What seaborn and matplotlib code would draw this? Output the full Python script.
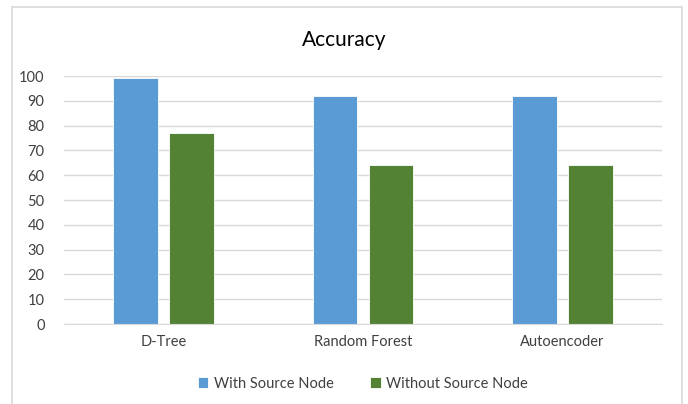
import matplotlib
matplotlib.use('Agg')
import pandas as pd
import matplotlib.pyplot as plt
import seaborn as sns
from matplotlib.patches import Rectangle

models = ['D-Tree', 'Random Forest', 'Autoencoder']
with_source = [99.2, 92.0, 92.0]
without_source = [76.9, 64.2, 64.2]
series_names = ['With Source Node', 'Without Source Node']
colors = ['#5b9bd5', '#548235']

df = pd.DataFrame({
    'model': models * 2,
    'accuracy': with_source + without_source,
    'series': [series_names[0]] * 3 + [series_names[1]] * 3,
})

sns.set_style('white')
plt.rcParams['font.family'] = ['Lato', 'DejaVu Sans']

fig = plt.figure(figsize=(6.88, 4.04), dpi=100)
ax = fig.add_axes([64 / 688, 80 / 404, 598 / 688, 248 / 404])

sns.barplot(data=df, x='model', y='accuracy', hue='series', hue_order=series_names,
            palette=colors, width=0.56, gap=0.2, ax=ax, legend=True, saturation=1,
            edgecolor='white', linewidth=0.6)

ax.set_ylim(0, 100)
ax.set_xlim(-0.5, 2.5)
ax.set_yticks(range(0, 101, 10))
ax.yaxis.grid(True, color='#d9d9d9', linewidth=1)
ax.set_axisbelow(True)
for s in ['top', 'right', 'left']:
    ax.spines[s].set_visible(False)
ax.spines['bottom'].set_color('#d9d9d9')
ax.tick_params(axis='both', length=0, labelsize=10.5, colors='#404040')
ax.tick_params(axis='y', pad=14)
ax.tick_params(axis='x', pad=8)
ax.set_xlabel('')
ax.set_ylabel('')

fig.text(0.5, 1 - 40 / 404, 'Accuracy', ha='center', va='center', fontsize=15, color='#000000')

leg = ax.legend(loc='center', bbox_to_anchor=(0.5, -0.24), ncol=2, frameon=False,
                fontsize=10.5, handlelength=0.7, handleheight=0.7, columnspacing=2.5,
                handletextpad=0.4)
for t in leg.get_texts():
    t.set_color('#404040')

fig.patches.append(Rectangle((12 / 688, -0.01), 670 / 688, 1 - 7 / 404 + 0.01,
                             transform=fig.transFigure, fill=False,
                             edgecolor='#d9d9d9', linewidth=1.2))

fig.savefig('out.png', dpi=100)
